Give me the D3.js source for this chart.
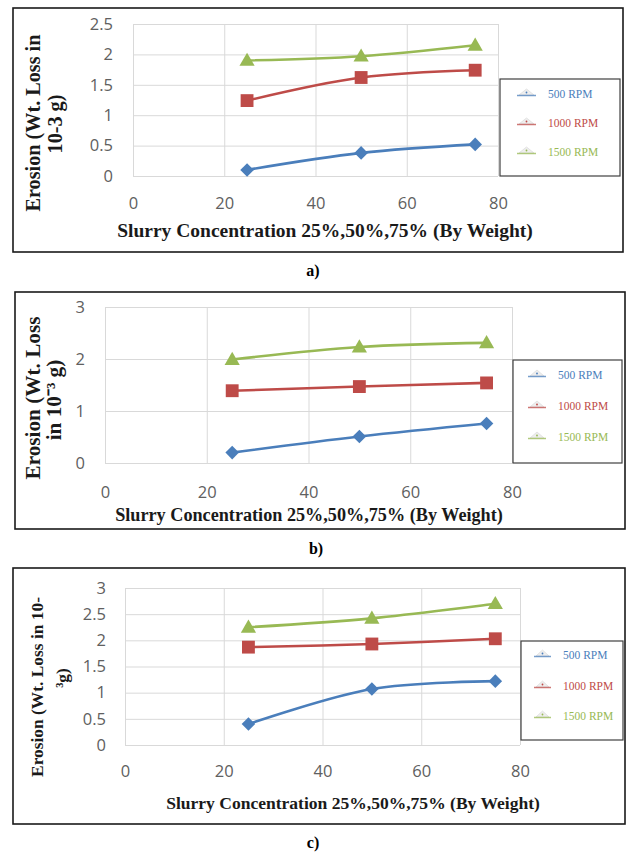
<!DOCTYPE html>
<html>
<head>
<meta charset="utf-8">
<script src="https://cdn.jsdelivr.net/npm/d3@7"></script>
<style>
  html, body { margin: 0; padding: 0; background: #fff; }
  svg { display: block; }
</style>
</head>
<body>
<svg id="chart" width="627" height="852"></svg>
<script>
// ---------------- DATA ----------------
const concentration = [25, 50, 75];
const seriesNames = ["500 RPM", "1000 RPM", "1500 RPM"];
const xTicks = [0, 20, 40, 60, 80];

const a500 = [0.1, 0.38, 0.52];
const a1000 = [1.24, 1.62, 1.74];
const a1500 = [1.9, 1.97, 2.15];
const yTicksA = [0, 0.5, 1, 1.5, 2, 2.5];

const b500 = [0.2, 0.51, 0.76];
const b1000 = [1.39, 1.47, 1.54];
const b1500 = [1.99, 2.23, 2.31];
const yTicksB = [0, 1, 2, 3];

const c500 = [0.4, 1.07, 1.22];
const c1000 = [1.87, 1.93, 2.03];
const c1500 = [2.25, 2.42, 2.7];
const yTicksC = [0, 0.5, 1, 1.5, 2, 2.5, 3];

const panelLabels = ["a)", "b)", "c)"];
const xTitle = "Slurry Concentration 25%,50%,75% (By Weight)";
const yTitleA = ["Erosion (Wt. Loss in", "10-3 g)"];
const yTitleB = ["Erosion (Wt. Loss", "in 10\u207B\u00B3 g)"];
const yTitleC = ["Erosion (Wt. Loss in 10-", "\u00B3g)"];

// ---------------- STYLE / LAYOUT ----------------
const colors = ["#4a7ebb", "#be4b48", "#98b954"];
const markerTypes = ["diamond", "square", "triangle"];

const panels = [
  { series: [a500, a1000, a1500], yTicks: yTicksA, yTitle: yTitleA, label: panelLabels[0],
    box: [13, 8, 623, 252], plot: [133, 24, 498, 176], xPad: 21, yPad: 20,
    yTitleX: [33, 55], yTitleCY: [123, 124], yTitleW: 177,
    xTitleCY: 230, xTitleX: [117, 533],
    legend: [500, 79, 620, 176], legRows: [94, 123, 152], legLine: [517, 536], legText: 548,
    labelXY: [313, 270] },
  { series: [b500, b1000, b1500], yTicks: yTicksB, yTitle: yTitleB, label: panelLabels[1],
    box: [15, 292, 625, 529], plot: [105, 307, 512, 463], xPad: 23, yPad: 20,
    yTitleX: [33, 54], yTitleCY: [398, 400], yTitleW: 163,
    xTitleCY: 515, xTitleX: [115, 503],
    legend: [513, 360, 622, 463], legRows: [375, 406, 437], legLine: [528, 546], legText: 558,
    labelXY: [316, 548] },
  { series: [c500, c1000, c1500], yTicks: yTicksC, yTitle: yTitleC, label: panelLabels[2],
    box: [13, 568, 625, 824], plot: [125, 588, 520, 745], xPad: 20, yPad: 19,
    yTitleX: [37, 62], yTitleCY: [687, 678], yTitleW: 180,
    xTitleCY: 803, xTitleX: [166, 540],
    legend: [521, 641, 623, 740], legRows: [655, 686, 716], legLine: [534, 551], legText: 563,
    labelXY: [313, 842] }
];

const svg = d3.select("#chart");

function fitText(sel, target) {
  const w = sel.node().getComputedTextLength();
  const fs = parseFloat(sel.attr("font-size"));
  if (w > 0) sel.attr("font-size", fs * target / w);
  return parseFloat(sel.attr("font-size"));
}

function marker(g, type, x, y, color) {
  if (type === "diamond") {
    g.append("path")
      .attr("d", d3.symbol().type(d3.symbolSquare).size(92)())
      .attr("transform", `translate(${x},${y}) rotate(45)`)
      .attr("fill", color);
  } else if (type === "square") {
    g.append("path")
      .attr("d", d3.symbol().type(d3.symbolSquare).size(165)())
      .attr("transform", `translate(${x},${y})`)
      .attr("fill", color);
  } else {
    g.append("path")
      .attr("d", d3.symbol().type(d3.symbolTriangle).size(100)())
      .attr("transform", `translate(${x},${y + 1})`)
      .attr("fill", color);
  }
}

panels.forEach(p => {
  const [bx0, by0, bx1, by1] = p.box;
  svg.append("rect")
    .attr("x", bx0).attr("y", by0)
    .attr("width", bx1 - bx0).attr("height", by1 - by0)
    .attr("fill", "#fff").attr("stroke", "#1a1a1a").attr("stroke-width", 1.6);

  const [px0, py0, px1, py1] = p.plot;
  const x = d3.scaleLinear().domain([0, 80]).range([px0, px1]);
  const y = d3.scaleLinear().domain([0, d3.max(p.yTicks)]).range([py1, py0]);

  // Y axis with gridlines
  const gy = svg.append("g")
    .attr("transform", `translate(${px0},0)`)
    .call(d3.axisLeft(y).tickValues(p.yTicks).tickSize(-(px1 - px0)).tickPadding(p.yPad)
      .tickFormat(d3.format("")));
  gy.select(".domain").remove();
  gy.selectAll("line").attr("stroke", "#d9d9d9").attr("stroke-width", 1);
  gy.selectAll("text").attr("font-family", "'Open Sans', sans-serif")
    .attr("font-size", 16.5).attr("fill", "#606060");

  // X axis with gridlines
  const gx = svg.append("g")
    .attr("transform", `translate(0,${py1})`)
    .call(d3.axisBottom(x).tickValues(xTicks).tickSize(-(py1 - py0)).tickPadding(p.xPad));
  gx.select(".domain").remove();
  gx.selectAll("line").attr("stroke", "#d9d9d9").attr("stroke-width", 1);
  gx.selectAll("text").attr("font-family", "'Open Sans', sans-serif")
    .attr("font-size", 16.5).attr("fill", "#606060");

  // Lines
  const line = d3.line()
    .x((d, i) => x(concentration[i]))
    .y(d => y(d))
    .curve(d3.curveCatmullRom.alpha(0.5));

  p.series.forEach((vals, si) => {
    svg.append("path")
      .datum(vals)
      .attr("d", line)
      .attr("fill", "none")
      .attr("stroke", colors[si])
      .attr("stroke-width", 2.6)
      .attr("stroke-linecap", "round");
    const mg = svg.append("g");
    vals.forEach((v, i) => marker(mg, markerTypes[si], x(concentration[i]), y(v), colors[si]));
  });

  // Y title (rotated, two lines, same size)
  let titleSize = 18;
  p.yTitle.forEach((t, li) => {
    const tx = svg.append("text")
      .attr("transform", `translate(${p.yTitleX[li]},${p.yTitleCY[li]}) rotate(-90)`)
      .attr("text-anchor", "middle")
      .attr("dy", "0.35em")
      .attr("font-family", "'Liberation Serif', 'Times New Roman', serif")
      .attr("font-weight", "bold")
      .attr("font-size", titleSize)
      .attr("fill", "#1a1a1a")
      .text(t);
    if (li === 0) titleSize = fitText(tx, p.yTitleW);
  });

  // X title
  const xt = svg.append("text")
    .attr("x", (p.xTitleX[0] + p.xTitleX[1]) / 2)
    .attr("y", p.xTitleCY)
    .attr("dy", "0.35em")
    .attr("text-anchor", "middle")
    .attr("font-family", "'Liberation Serif', 'Times New Roman', serif")
    .attr("font-weight", "bold")
    .attr("font-size", 18)
    .attr("fill", "#1a1a1a")
    .text(xTitle);
  fitText(xt, p.xTitleX[1] - p.xTitleX[0]);

  // Legend
  const [lx0, ly0, lx1, ly1] = p.legend;
  svg.append("rect")
    .attr("x", lx0).attr("y", ly0)
    .attr("width", lx1 - lx0).attr("height", ly1 - ly0)
    .attr("fill", "#fff").attr("stroke", "#404040").attr("stroke-width", 1.2);
  seriesNames.forEach((name, si) => {
    const ry = p.legRows[si];
    const [ll0, ll1] = p.legLine;
    svg.append("path")
      .attr("d", `M${ll0 + 2},${ry + 1} L${(ll0 + ll1) / 2},${ry - 5} L${ll1 - 2},${ry + 1} Z`)
      .attr("fill", "#eeeeee").attr("stroke", "#dddddd").attr("stroke-width", 0.8);
    svg.append("line")
      .attr("x1", ll0).attr("x2", ll1).attr("y1", ry + 1.5).attr("y2", ry + 1.5)
      .attr("stroke", colors[si]).attr("stroke-width", 1.5).attr("opacity", 0.75);
    svg.append("circle")
      .attr("cx", (ll0 + ll1) / 2).attr("cy", ry - 1.5).attr("r", 0.9)
      .attr("fill", colors[si]);
    svg.append("text")
      .attr("x", p.legText).attr("y", ry)
      .attr("dy", "0.35em")
      .attr("font-family", "'Liberation Serif', 'Times New Roman', serif")
      .attr("font-size", 11.5)
      .attr("fill", colors[si])
      .text(name);
  });

  // Panel label
  svg.append("text")
    .attr("x", p.labelXY[0]).attr("y", p.labelXY[1])
    .attr("dy", "0.35em")
    .attr("text-anchor", "middle")
    .attr("font-family", "'Liberation Serif', 'Times New Roman', serif")
    .attr("font-weight", "bold")
    .attr("font-size", 16)
    .attr("fill", "#000")
    .text(p.label);
});
</script>
</body>
</html>
